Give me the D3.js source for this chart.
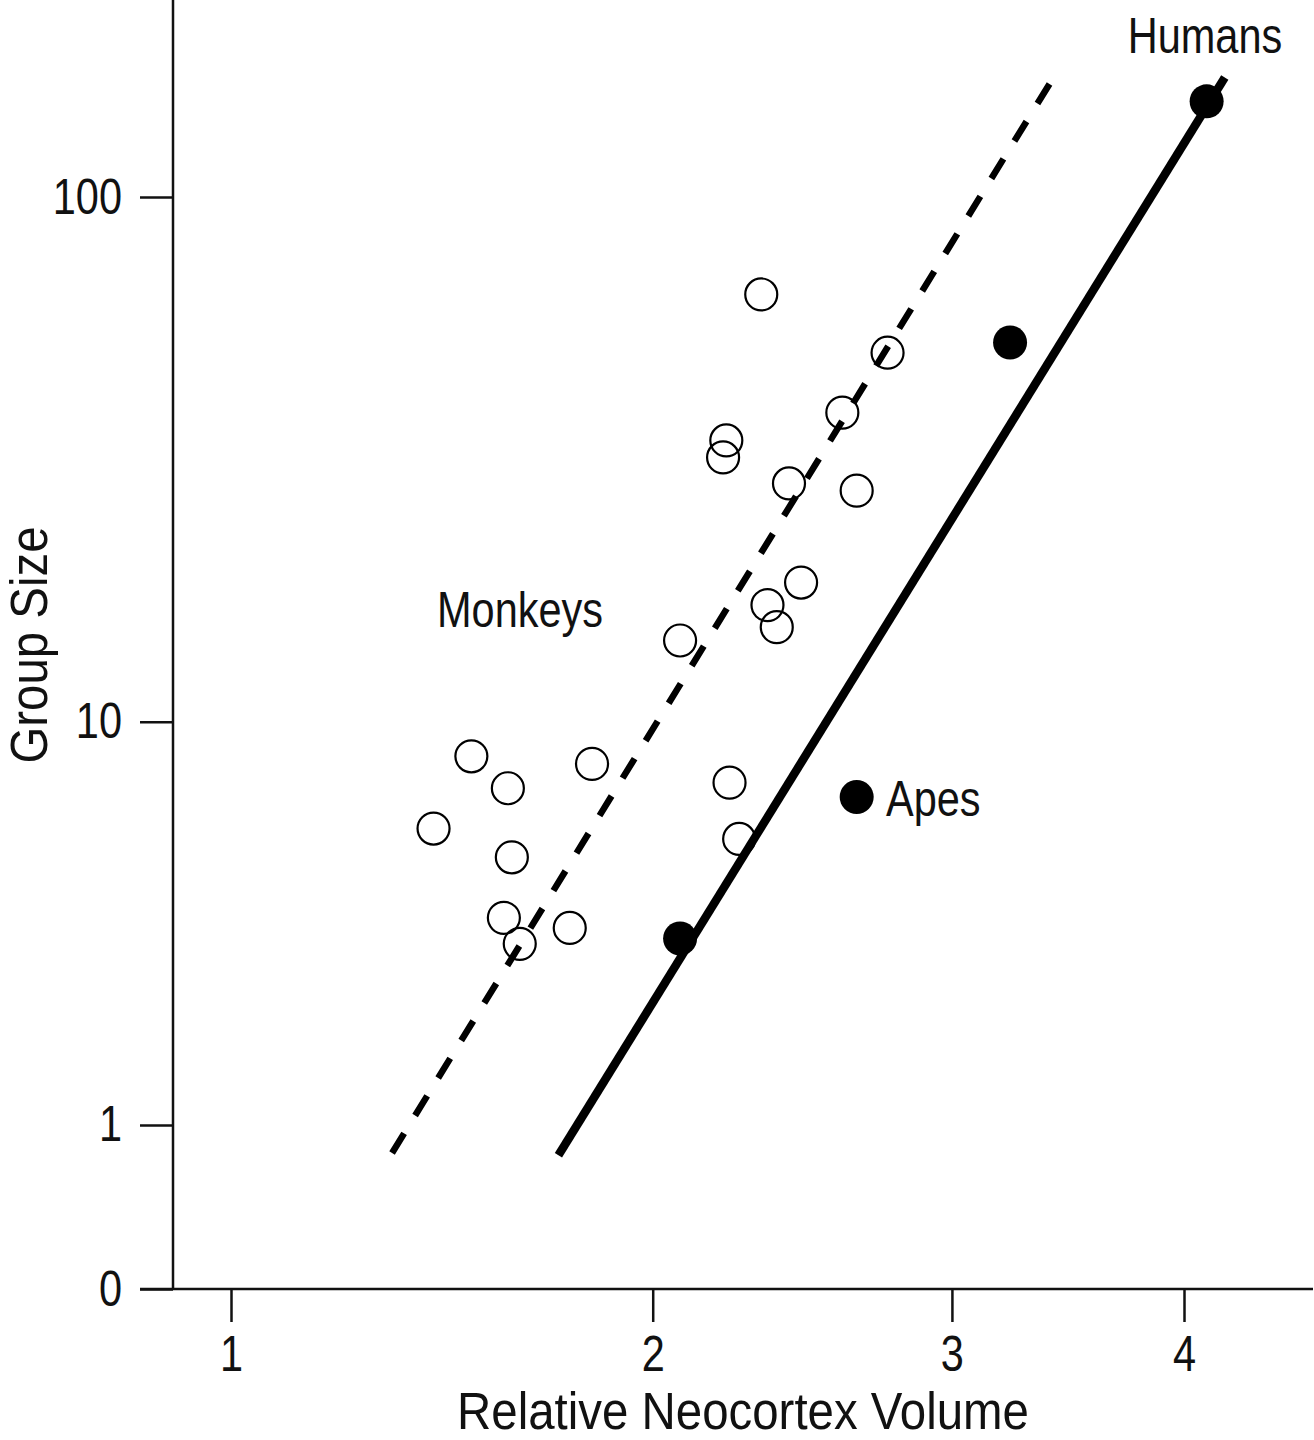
<!DOCTYPE html>
<html>
<head>
<meta charset="utf-8">
<script src="https://cdn.jsdelivr.net/npm/d3@7"></script>
<style>
  body { margin: 0; background: #fff; }
  text { font-family: "Liberation Sans", Arial, sans-serif; fill: #111; }
</style>
</head>
<body>
<svg id="my_svg"></svg>
<script>
const width = 1314;
const height = 1440;

// data
const monkeyX = [2.33, 2.76, 2.60, 2.22, 2.21, 2.42, 2.65, 2.46, 2.35, 2.38, 2.08,
                 1.52, 1.61, 1.83, 2.23, 1.43, 1.62, 2.26, 1.60, 1.64, 1.77];
const monkeyY = [65.9, 51.3, 39.6, 35.1, 32.6, 29.1, 28.2, 18.8, 17.0, 15.4, 14.5,
                 8.5, 7.3, 8.2, 7.5, 6.0, 5.2, 5.7, 3.8, 3.3, 3.6];
const apeX = [4.11, 3.23, 2.65, 2.08];
const apeY = [150.3, 53.6, 7.0, 3.4];
const monkeyLineX = [1.335, 3.42];
const monkeyLineY = [0.777, 169.0];
const apeLineX = [1.74, 4.20];
const apeLineY = [0.76, 166.4];
const xTicks = [1, 2, 3, 4];
const yTicks = [0, 1, 10, 100];

// the original uses a condensed face; squeeze Liberation Sans to get close
const squeeze = 0.83;

const svg = d3.select('#my_svg')
    .attr('width', width)
    .attr('height', height);

// both axes are log(v + 1), which is what symlog with constant 1 gives
const x = d3.scaleSymlog().constant(1)
    .domain([1, 4])
    .range([231, 1184]);
const y = d3.scaleSymlog().constant(1)
    .domain([0, 100])
    .range([1289, 197]);

const axisX0 = 173, axisY0 = 1289;

// axes
const yAxis = svg.append('g')
    .attr('transform', `translate(${axisX0},0)`)
    .call(d3.axisLeft(y).tickValues(yTicks).tickSize(33).tickPadding(18).tickFormat(d3.format('d')));
const xAxis = svg.append('g')
    .attr('transform', `translate(0,${axisY0})`)
    .call(d3.axisBottom(x).tickValues(xTicks).tickSize(33).tickPadding(14).tickFormat(d3.format('d')));

[yAxis, xAxis].forEach(g => {
    g.select('.domain').remove();
    g.selectAll('line').attr('stroke', '#111').attr('stroke-width', 2.5);
    g.selectAll('text').attr('font-size', 50).attr('fill', '#111')
        .style('font-family', '"Liberation Sans", Arial, sans-serif')
        .attr('transform', `scale(${squeeze},1)`);
});
yAxis.selectAll('text').attr('x', -51 / squeeze);

svg.append('line')
    .attr('x1', axisX0).attr('x2', axisX0)
    .attr('y1', 0).attr('y2', axisY0)
    .attr('stroke', '#111').attr('stroke-width', 2.5);
svg.append('line')
    .attr('x1', 140).attr('x2', 1313)
    .attr('y1', axisY0).attr('y2', axisY0)
    .attr('stroke', '#111').attr('stroke-width', 2.5);

// regression lines
const line = d3.line().x(d => x(d[0])).y(d => y(d[1]));
svg.append('path')
    .datum(d3.zip(monkeyLineX, monkeyLineY))
    .attr('d', line)
    .attr('fill', 'none')
    .attr('stroke', '#000')
    .attr('stroke-width', 6.5)
    .attr('stroke-dasharray', '23,21');
svg.append('path')
    .datum(d3.zip(apeLineX, apeLineY))
    .attr('d', line)
    .attr('fill', 'none')
    .attr('stroke', '#000')
    .attr('stroke-width', 8.5);

// monkeys: open circles
svg.append('g')
    .selectAll('circle')
    .data(d3.zip(monkeyX, monkeyY))
    .enter().append('circle')
    .attr('cx', d => x(d[0]))
    .attr('cy', d => y(d[1]))
    .attr('r', 16)
    .attr('fill', 'none')
    .attr('stroke', '#000')
    .attr('stroke-width', 2.2);

// apes: filled circles
svg.append('g')
    .selectAll('circle')
    .data(d3.zip(apeX, apeY))
    .enter().append('circle')
    .attr('cx', d => x(d[0]))
    .attr('cy', d => y(d[1]))
    .attr('r', 17)
    .attr('fill', '#000');

// labels
function label(px, py, txt, anchor, size, sq, rot) {
    svg.append('text')
        .attr('transform', `translate(${px},${py})` + (rot ? ` rotate(${rot})` : '') + ` scale(${sq},1)`)
        .attr('text-anchor', anchor)
        .attr('font-size', size)
        .text(txt);
}
label(1205, 53, 'Humans', 'middle', 50, squeeze);
label(437, 627, 'Monkeys', 'start', 50, squeeze);
label(886, 816, 'Apes', 'start', 50, squeeze);
label(743, 1428.5, 'Relative Neocortex Volume', 'middle', 51, 0.93);
label(47, 645, 'Group Size', 'middle', 51, 0.93, -90);
</script>
</body>
</html>
